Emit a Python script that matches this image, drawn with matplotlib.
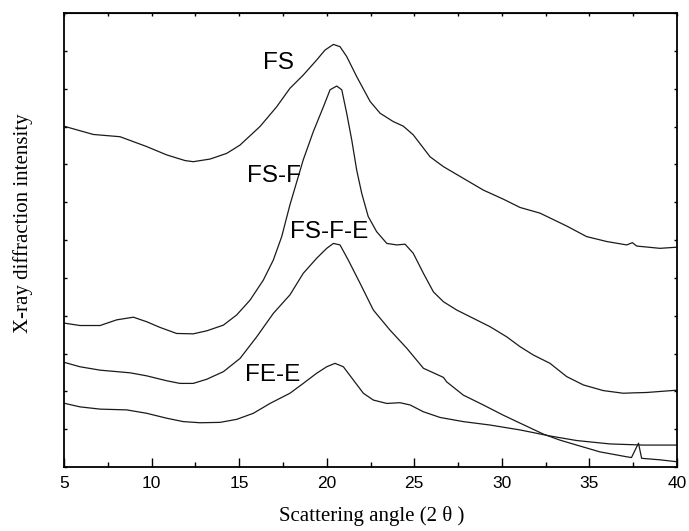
import matplotlib
matplotlib.use("Agg")
import matplotlib.pyplot as plt
import numpy as np

# ---- data ----
fs_x = [5.06, 6.67, 8.2, 9.72, 10.86, 11.91, 12.38, 13.34, 14.29, 15.05, 16.19, 17.14, 17.9,
        18.66, 19.43, 19.9, 20.38, 20.76, 21.14, 21.71, 22.48, 23.05, 23.8, 24.37, 24.94, 25.9,
        26.66, 27.8, 28.94, 30.08, 31.04, 32.18, 33.7, 34.84, 35.99, 37.13, 37.45, 37.7, 39.03, 39.98]
fs_y = [9.0, 8.79, 8.73, 8.47, 8.25, 8.10, 8.07, 8.14, 8.29, 8.51, 9.0, 9.52, 10.01,
        10.36, 10.76, 11.02, 11.17, 11.11, 10.85, 10.32, 9.66, 9.35, 9.13, 9.01, 8.78, 8.20,
        7.94, 7.63, 7.32, 7.08, 6.86, 6.71, 6.37, 6.09, 5.96, 5.87, 5.93, 5.84, 5.78, 5.81]

fsf_x = [5.06, 5.91, 7.06, 8.01, 8.96, 9.72, 10.48, 11.43, 12.38, 13.15, 14.10, 14.86, 15.62,
         16.38, 16.95, 17.43, 17.90, 18.66, 19.23, 19.81, 20.19, 20.57, 20.86, 21.14, 21.43,
         21.71, 22.0, 22.37, 22.85, 23.43, 24.0, 24.47, 24.94, 25.52, 26.09, 26.66, 27.42,
         28.37, 29.32, 30.28, 31.04, 31.80, 32.75, 33.70, 34.65, 35.79, 36.93, 37.51, 38.27, 39.98]
fsf_y = [3.80, 3.74, 3.74, 3.89, 3.96, 3.84, 3.69, 3.53, 3.52, 3.60, 3.75, 4.02, 4.41,
         4.94, 5.47, 6.09, 6.93, 8.12, 8.86, 9.52, 9.97, 10.07, 9.97, 9.35, 8.64,
         7.85, 7.23, 6.62, 6.22, 5.91, 5.87, 5.89, 5.65, 5.12, 4.63, 4.37, 4.15,
         3.93, 3.71, 3.44, 3.18, 2.96, 2.74, 2.39, 2.17, 2.02, 1.95, 1.96, 1.97, 2.03]

fsfe_x = [5.06, 5.91, 7.06, 8.77, 9.72, 10.86, 11.62, 12.38, 13.15, 14.10, 15.05, 16.0, 16.95,
          17.90, 18.66, 19.43, 20.0, 20.38, 20.76, 21.23, 21.90, 22.66, 23.61, 24.57, 25.52,
          26.47, 26.66, 26.85, 27.80, 28.94, 30.08, 31.04, 32.37, 33.32, 34.27, 35.60, 37.13,
          37.40, 37.80, 37.98, 39.03, 39.98]
fsfe_y = [2.76, 2.65, 2.56, 2.49, 2.41, 2.28, 2.21, 2.21, 2.32, 2.52, 2.87, 3.44, 4.06,
          4.55, 5.12, 5.52, 5.78, 5.91, 5.87, 5.47, 4.86, 4.15, 3.62, 3.14, 2.61,
          2.41, 2.37, 2.25, 1.90, 1.64, 1.37, 1.16, 0.87, 0.71, 0.58, 0.40, 0.27,
          0.25, 0.63, 0.23, 0.19, 0.14]

fee_x = [5.06, 5.91, 7.06, 8.58, 9.72, 10.86, 11.81, 12.77, 13.91, 14.86, 15.81, 16.76, 17.90,
         18.66, 19.43, 20.0, 20.47, 20.95, 21.52, 22.09, 22.66, 23.43, 24.18, 24.76, 25.52,
         26.47, 27.80, 29.32, 31.04, 32.75, 34.27, 36.17, 38.08, 39.98]
fee_y = [1.68, 1.59, 1.53, 1.51, 1.42, 1.29, 1.20, 1.17, 1.18, 1.26, 1.42, 1.68, 1.95,
         2.21, 2.48, 2.65, 2.74, 2.65, 2.30, 1.95, 1.77, 1.68, 1.70, 1.64, 1.46,
         1.31, 1.20, 1.11, 0.98, 0.82, 0.70, 0.61, 0.58, 0.58]

labels = ["FS", "FS-F", "FS-F-E", "FE-E"]
label_pos = [(17.22, 10.68), (16.99, 7.69), (20.16, 6.21), (16.93, 2.42)]

xticks = [5, 10, 15, 20, 25, 30, 35, 40]
xminor = [7.5, 12.5, 17.5, 22.5, 27.5, 32.5, 37.5]
yticks = list(range(0, 13))

# ---- figure ----
fig = plt.figure(figsize=(6.89, 5.31), dpi=100)
ax = fig.add_axes([0.0929, 0.1205, 0.8897, 0.855])

lc = "#1a1a1a"
for xs, ys in [(fs_x, fs_y), (fsf_x, fsf_y), (fsfe_x, fsfe_y), (fee_x, fee_y)]:
    ax.plot(xs, ys, color=lc, lw=0.9)

for lab, (lx, ly) in zip(labels, label_pos):
    ax.text(lx, ly, lab, ha="center", va="center", fontsize=17.5,
            family=["Liberation Sans", "DejaVu Sans"], color="black")

ax.set_xlim(5, 40)
ax.set_ylim(0, 12)
ax.set_xticks(xticks)
ax.set_xticks(xminor, minor=True)
ax.set_yticks(yticks)
ax.set_yticklabels([])
for lbl in ax.get_xticklabels():
    lbl.set_family(["Liberation Sans", "DejaVu Sans"])
ax.tick_params(axis="x", which="major", direction="in", length=6.5, width=1.0,
               labelsize=12.5, pad=6.5)
ax.tick_params(axis="x", which="minor", direction="in", length=3.6, width=1.0)
ax.tick_params(axis="y", which="major", direction="in", length=2.2, width=1.0,
               left=True, right=True)
for sp in ax.spines.values():
    sp.set_linewidth(1.3)

# top short ticks every 2.5
top = ax.secondary_xaxis("top")
top.set_xticks(xticks + xminor)
top.set_xticklabels([])
top.tick_params(direction="in", length=2.2, width=1.0)

ax.set_xlabel("Scattering angle (2 θ )", fontsize=15,
              family=["Liberation Serif", "DejaVu Serif"])
ax.xaxis.set_label_coords(0.502, -0.085)
ax.set_ylabel("X-ray diffraction intensity", fontsize=15,
              family=["Liberation Serif", "DejaVu Serif"])
ax.yaxis.set_label_coords(-0.05, 0.537)

fig.savefig("out.png", dpi=100)
